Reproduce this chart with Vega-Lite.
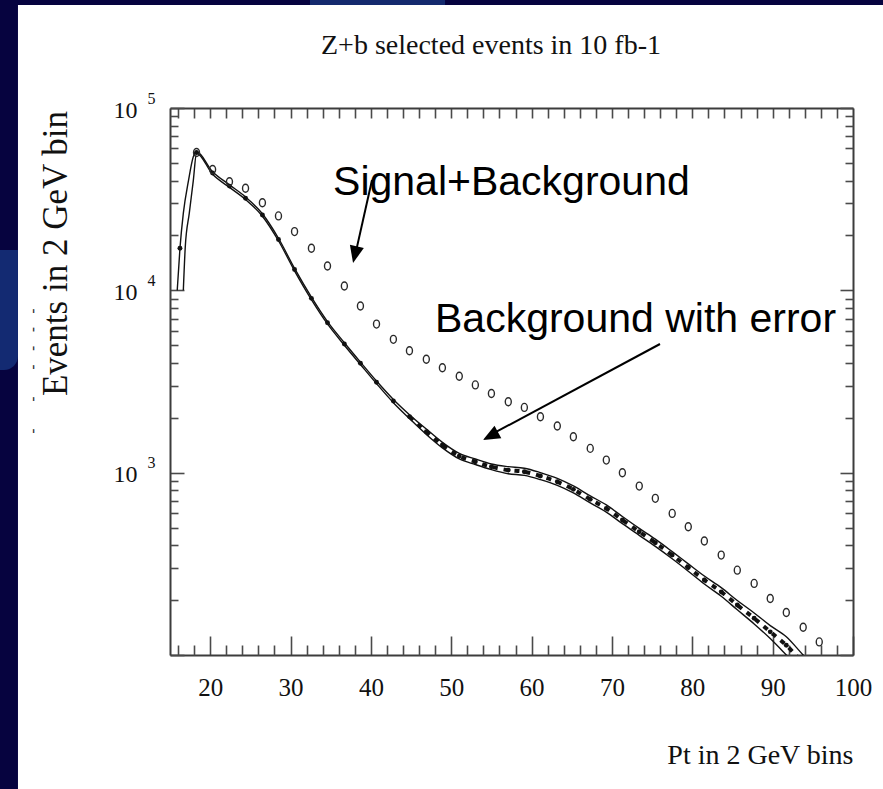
{
  "$schema": "https://vega.github.io/schema/vega-lite/v6.json",
  "width": 683,
  "height": 547,
  "autosize": {"type": "none"},
  "padding": {"left": 170, "top": 108, "right": 30, "bottom": 134},
  "background": "white",
  "config": {
    "view": {"stroke": null},
    "axis": {
      "zindex": 1,
      "grid": false,
      "domain": false,
      "ticks": false,
      "labels": false,
      "domainColor": "#3c3c3c",
      "domainWidth": 2,
      "tickColor": "#4a4a4a",
      "tickWidth": 1.6,
      "labelFont": "Liberation Serif",
      "labelFontSize": 25,
      "labelColor": "#111111",
      "titleFont": "Liberation Serif",
      "titleFontWeight": "normal",
      "titleColor": "#111111",
      "labelFlush": false,
      "labelOverlap": false,
      "labelBound": false
    }
  },
  "resolve": {"axis": {"x": "independent", "y": "independent"}},
  "datasets": {
    "sig": [
      {"pt": 18.3, "evts": 57000}, {"pt": 20.3, "evts": 46000}, {"pt": 22.4, "evts": 39400},
      {"pt": 24.4, "evts": 36300}, {"pt": 26.5, "evts": 30200}, {"pt": 28.5, "evts": 25600},
      {"pt": 30.5, "evts": 21000}, {"pt": 32.6, "evts": 17000}, {"pt": 34.6, "evts": 13600},
      {"pt": 36.7, "evts": 10560}, {"pt": 38.7, "evts": 8200}, {"pt": 40.7, "evts": 6530},
      {"pt": 42.8, "evts": 5385}, {"pt": 44.8, "evts": 4664}, {"pt": 46.9, "evts": 4190},
      {"pt": 48.9, "evts": 3760}, {"pt": 51.0, "evts": 3380}, {"pt": 53.0, "evts": 3030},
      {"pt": 55.0, "evts": 2720}, {"pt": 57.1, "evts": 2449}, {"pt": 59.1, "evts": 2280},
      {"pt": 61.1, "evts": 2028}, {"pt": 63.2, "evts": 1803}, {"pt": 65.2, "evts": 1574},
      {"pt": 67.3, "evts": 1359}, {"pt": 69.3, "evts": 1172}, {"pt": 71.3, "evts": 999},
      {"pt": 73.4, "evts": 844}, {"pt": 75.4, "evts": 723}, {"pt": 77.5, "evts": 598},
      {"pt": 79.5, "evts": 505}, {"pt": 81.5, "evts": 422}, {"pt": 83.6, "evts": 353},
      {"pt": 85.6, "evts": 292}, {"pt": 87.7, "evts": 247}, {"pt": 89.7, "evts": 204},
      {"pt": 91.7, "evts": 171}, {"pt": 93.8, "evts": 142}, {"pt": 95.8, "evts": 118}
    ],
    "bkg": [
      {"pt": 15.9, "bkg": null, "lo": null, "hi": 10000},
      {"pt": 16.24, "bkg": 17000, "lo": null, "hi": 17000},
      {"pt": 16.66, "bkg": null, "lo": 10000, "hi": 26500},
      {"pt": 16.9, "bkg": null, "lo": 17300, "hi": null},
      {"pt": 17.3, "bkg": null, "lo": null, "hi": 40000},
      {"pt": 17.4, "bkg": null, "lo": 26500, "hi": null},
      {"pt": 17.9, "bkg": null, "lo": 40000, "hi": 54000},
      {"pt": 18.3, "bkg": 57000, "lo": 56500, "hi": 57500},
      {"pt": 20.3, "bkg": 44000, "lo": 43300, "hi": 44700},
      {"pt": 22.4, "bkg": 37300, "lo": 36700, "hi": 37900},
      {"pt": 24.4, "bkg": 32000, "lo": 31500, "hi": 32500},
      {"pt": 26.5, "bkg": 25900, "lo": 25500, "hi": 26300},
      {"pt": 28.5, "bkg": 19000, "lo": 18700, "hi": 19300},
      {"pt": 30.5, "bkg": 13000, "lo": 12800, "hi": 13200},
      {"pt": 32.6, "bkg": 9040, "lo": 8900, "hi": 9180},
      {"pt": 34.6, "bkg": 6640, "lo": 6540, "hi": 6740},
      {"pt": 36.7, "bkg": 5080, "lo": 5000, "hi": 5160},
      {"pt": 38.7, "bkg": 3980, "lo": 3920, "hi": 4040},
      {"pt": 40.7, "bkg": 3130, "lo": 3080, "hi": 3180},
      {"pt": 42.8, "bkg": 2470, "lo": 2420, "hi": 2520},
      {"pt": 44.8, "bkg": 2030, "lo": 1980, "hi": 2080},
      {"pt": 46.9, "bkg": 1677, "lo": 1620, "hi": 1735},
      {"pt": 48.9, "bkg": 1417, "lo": 1368, "hi": 1467},
      {"pt": 51.0, "bkg": 1233, "lo": 1190, "hi": 1276},
      {"pt": 53.0, "bkg": 1148, "lo": 1108, "hi": 1188},
      {"pt": 55.0, "bkg": 1077, "lo": 1039, "hi": 1115},
      {"pt": 57.1, "bkg": 1033, "lo": 987, "hi": 1079},
      {"pt": 59.1, "bkg": 1012, "lo": 966, "hi": 1058},
      {"pt": 61.1, "bkg": 958, "lo": 915, "hi": 1001},
      {"pt": 63.2, "bkg": 891, "lo": 851, "hi": 931},
      {"pt": 65.2, "bkg": 810, "lo": 774, "hi": 846},
      {"pt": 67.3, "bkg": 714, "lo": 682, "hi": 746},
      {"pt": 69.3, "bkg": 637, "lo": 608, "hi": 666},
      {"pt": 71.3, "bkg": 550, "lo": 525, "hi": 575},
      {"pt": 73.4, "bkg": 474, "lo": 453, "hi": 495},
      {"pt": 75.4, "bkg": 413, "lo": 394, "hi": 432},
      {"pt": 77.5, "bkg": 353, "lo": 337, "hi": 369},
      {"pt": 79.5, "bkg": 302, "lo": 288, "hi": 316},
      {"pt": 81.5, "bkg": 258, "lo": 245, "hi": 271},
      {"pt": 83.6, "bkg": 222, "lo": 210, "hi": 234},
      {"pt": 85.6, "bkg": 188, "lo": 177, "hi": 199},
      {"pt": 87.7, "bkg": 159, "lo": 148, "hi": 170},
      {"pt": 89.7, "bkg": 134, "lo": 123, "hi": 145},
      {"pt": 91.7, "bkg": 113, "lo": 100, "hi": 126},
      {"pt": 93.8, "bkg": 90, "lo": 80, "hi": 100},
      {"pt": 95.8, "bkg": null, "lo": null, "hi": 82}
    ]
  },
  "layer": [
    {
      "description": "dark slide border on the left, with the labelled bottom axis and the mantissa of the left labels",
      "data": {"values": [{}]},
      "mark": {"type": "rect", "color": "#06033f"},
      "encoding": {
        "x": {
          "datum": -40, "type": "quantitative",
          "scale": {"domain": [15, 100], "nice": false, "zero": false},
          "axis": {
            "orient": "bottom", "labels": true, "labelPadding": 20,
            "values": [20, 30, 40, 50, 60, 70, 80, 90, 100],
            "title": "Pt in 2 GeV bins", "titleFontSize": 28, "titleAnchor": "end",
            "titleAlign": "right", "titleBaseline": "alphabetic", "titleX": 683, "titleY": 108
          }
        },
        "x2": {"datum": -3.92},
        "y": {
          "datum": 1000000000, "type": "quantitative",
          "scale": {"type": "log", "domain": [100, 100000], "nice": false},
          "axis": {
            "orient": "left", "labels": true, "labelPadding": 33, "labelOffset": 2,
            "values": [1000, 10000, 100000],
            "labelExpr": "'10'",
            "labelFontSize": 24,
            "title": "Events in 2 GeV bin", "titleFontSize": 35, "titleAngle": 270,
            "titleX": -104, "titleY": 145, "titleAlign": "center", "titleBaseline": "alphabetic"
          }
        },
        "y2": {"datum": 1}
      }
    },
    {
      "description": "dark slide border along the top, with the exponents of the left labels",
      "data": {"values": [{}]},
      "mark": {"type": "rect", "color": "#06033f"},
      "encoding": {
        "x": {"datum": -40, "type": "quantitative", "scale": {"domain": [15, 100], "nice": false, "zero": false}, "axis": null},
        "x2": {"datum": 140},
        "y": {
          "datum": 1000000000, "type": "quantitative",
          "scale": {"type": "log", "domain": [100, 100000], "nice": false},
          "axis": {
            "orient": "left", "title": null, "labels": true, "labelPadding": 15, "labelOffset": -10,
            "values": [1000, 10000, 100000],
            "labelExpr": "format(log(datum.value) / log(10), '.0f')",
            "labelFontSize": 16
          }
        },
        "y2": {"datum": 367000}
      }
    },
    {
      "description": "lighter swoosh of the slide template on the left border",
      "data": {"values": [{}]},
      "mark": {"type": "rect", "color": "#132a72", "cornerRadiusBottomRight": 14},
      "encoding": {
        "x": {"datum": -40, "type": "quantitative", "scale": {"domain": [15, 100], "nice": false, "zero": false}, "axis": null},
        "x2": {"datum": -3.92},
        "y": {"datum": 16640, "type": "quantitative", "scale": {"type": "log", "domain": [100, 100000], "nice": false}, "axis": null},
        "y2": {"datum": 3656}
      }
    },
    {
      "description": "lighter patch of the slide template on the top border",
      "data": {"values": [{}]},
      "mark": {"type": "rect", "color": "#142a6e"},
      "encoding": {
        "x": {"datum": 32.42, "type": "quantitative", "scale": {"domain": [15, 100], "nice": false, "zero": false}, "axis": null},
        "x2": {"datum": 49.23},
        "y": {"datum": 1000000000, "type": "quantitative", "scale": {"type": "log", "domain": [100, 100000], "nice": false}, "axis": null},
        "y2": {"datum": 367000}
      }
    },
    {
      "description": "upper edge of the background error band, with major frame ticks",
      "data": {"name": "bkg"},
      "transform": [{"filter": "datum.hi != null"}],
      "mark": {"type": "line", "color": "#111111", "strokeWidth": 1.4, "interpolate": "monotone", "clip": true},
      "encoding": {
        "x": {
          "field": "pt", "type": "quantitative",
          "scale": {"domain": [15, 100], "nice": false, "zero": false},
          "axis": {"orient": "bottom", "title": null, "domain": true, "ticks": true, "tickSize": -19,
                   "values": [20, 30, 40, 50, 60, 70, 80, 90, 100]}
        },
        "y": {
          "field": "hi", "type": "quantitative",
          "scale": {"type": "log", "domain": [100, 100000], "nice": false},
          "axis": {"orient": "left", "title": null, "domain": true, "ticks": true, "tickSize": -14,
                   "values": [100, 1000, 10000, 100000]}
        }
      }
    },
    {
      "description": "lower edge of the background error band, with minor frame ticks",
      "data": {"name": "bkg"},
      "transform": [{"filter": "datum.lo != null"}],
      "mark": {"type": "line", "color": "#111111", "strokeWidth": 1.4, "interpolate": "monotone", "clip": true},
      "encoding": {
        "x": {
          "field": "pt", "type": "quantitative",
          "scale": {"domain": [15, 100], "nice": false, "zero": false},
          "axis": {"orient": "bottom", "title": null, "ticks": true, "tickSize": -10,
                   "values": [16, 18, 22, 24, 26, 28, 32, 34, 36, 38, 42, 44, 46, 48, 52, 54, 56, 58, 62, 64, 66, 68, 72, 74, 76, 78, 82, 84, 86, 88, 92, 94, 96, 98]}
        },
        "y": {
          "field": "lo", "type": "quantitative",
          "scale": {"type": "log", "domain": [100, 100000], "nice": false},
          "axis": {"orient": "left", "title": null, "ticks": true, "tickSize": -8,
                   "values": [200, 300, 400, 500, 600, 700, 800, 900, 2000, 3000, 4000, 5000, 6000, 7000, 8000, 9000, 20000, 30000, 40000, 50000, 60000, 70000, 80000, 90000]}
        }
      }
    },
    {
      "description": "hatching inside the error band, with the top and right frame",
      "data": {"name": "bkg"},
      "transform": [{"filter": "datum.bkg != null && datum.pt >= 44"}],
      "mark": {"type": "line", "color": "#111111", "strokeWidth": 4, "strokeDash": [5, 6], "interpolate": "monotone", "clip": true},
      "encoding": {
        "x": {
          "field": "pt", "type": "quantitative",
          "scale": {"domain": [15, 100], "nice": false, "zero": false},
          "axis": {"orient": "top", "title": null, "domain": true, "ticks": true, "tickSize": -10,
                   "values": [16, 18, 20, 22, 24, 26, 28, 30, 32, 34, 36, 38, 40, 42, 44, 46, 48, 50, 52, 54, 56, 58, 60, 62, 64, 66, 68, 70, 72, 74, 76, 78, 80, 82, 84, 86, 88, 90, 92, 94, 96, 98]}
        },
        "y": {
          "field": "bkg", "type": "quantitative",
          "scale": {"type": "log", "domain": [100, 100000], "nice": false},
          "axis": {"orient": "right", "title": null, "domain": true, "ticks": true, "tickSize": -13,
                   "values": [100, 1000, 10000, 100000]}
        }
      }
    },
    {
      "description": "background points",
      "data": {"name": "bkg"},
      "transform": [{"filter": "datum.bkg != null && datum.bkg >= 100"}],
      "mark": {"type": "point", "filled": true, "color": "#111111", "size": 24, "opacity": 1},
      "encoding": {
        "x": {"field": "pt", "type": "quantitative", "scale": {"domain": [15, 100], "nice": false, "zero": false}, "axis": null},
        "y": {
          "field": "bkg", "type": "quantitative",
          "scale": {"type": "log", "domain": [100, 100000], "nice": false},
          "axis": {"orient": "right", "title": null, "ticks": true, "tickSize": -8,
                   "values": [200, 300, 400, 500, 600, 700, 800, 900, 2000, 3000, 4000, 5000, 6000, 7000, 8000, 9000, 20000, 30000, 40000, 50000, 60000, 70000, 80000, 90000]}
        }
      }
    },
    {
      "description": "signal plus background points",
      "data": {"name": "sig"},
      "mark": {"type": "point", "filled": false, "color": "#2a2a2a", "strokeWidth": 1.4, "size": 64, "opacity": 1,
               "shape": "M-0.75,0 A0.75,1 0 1,0 0.75,0 A0.75,1 0 1,0 -0.75,0 Z"},
      "encoding": {
        "x": {"field": "pt", "type": "quantitative", "scale": {"domain": [15, 100], "nice": false, "zero": false}, "axis": null},
        "y": {"field": "evts", "type": "quantitative", "scale": {"type": "log", "domain": [100, 100000], "nice": false}, "axis": null}
      }
    },
    {
      "data": {"values": [{}]},
      "mark": {"type": "rule", "color": "#000000", "strokeWidth": 2},
      "encoding": {
        "x": {"datum": 40.14, "type": "quantitative", "scale": {"domain": [15, 100], "nice": false, "zero": false}, "axis": null},
        "y": {"datum": 40290, "type": "quantitative", "scale": {"type": "log", "domain": [100, 100000], "nice": false}, "axis": null},
        "x2": {"datum": 38.1},
        "y2": {"datum": 16000}
      }
    },
    {
      "data": {"values": [{}]},
      "mark": {"type": "point", "filled": true, "color": "#000000", "opacity": 1, "size": 1156, "angle": 193,
               "shape": "M0,0 L-0.42,1 L0.42,1 Z"},
      "encoding": {
        "x": {"datum": 37.78, "type": "quantitative", "scale": {"domain": [15, 100], "nice": false, "zero": false}, "axis": null},
        "y": {"datum": 14120, "type": "quantitative", "scale": {"type": "log", "domain": [100, 100000], "nice": false}, "axis": null}
      }
    },
    {
      "data": {"values": [{}]},
      "mark": {"type": "rule", "color": "#000000", "strokeWidth": 2},
      "encoding": {
        "x": {"datum": 75.98, "type": "quantitative", "scale": {"domain": [15, 100], "nice": false, "zero": false}, "axis": null},
        "y": {"datum": 5078, "type": "quantitative", "scale": {"type": "log", "domain": [100, 100000], "nice": false}, "axis": null},
        "x2": {"datum": 55.0},
        "y2": {"datum": 1620}
      }
    },
    {
      "data": {"values": [{}]},
      "mark": {"type": "point", "filled": true, "color": "#000000", "opacity": 1, "size": 1156, "angle": 241.5,
               "shape": "M0,0 L-0.42,1 L0.42,1 Z"},
      "encoding": {
        "x": {"datum": 53.95, "type": "quantitative", "scale": {"domain": [15, 100], "nice": false, "zero": false}, "axis": null},
        "y": {"datum": 1510, "type": "quantitative", "scale": {"type": "log", "domain": [100, 100000], "nice": false}, "axis": null}
      }
    },
    {
      "data": {"values": [{"label": "Signal+Background"}]},
      "mark": {"type": "text", "font": "Liberation Sans", "fontSize": 41, "align": "left", "baseline": "alphabetic", "color": "#000000"},
      "encoding": {
        "x": {"datum": 35.29, "type": "quantitative", "scale": {"domain": [15, 100], "nice": false, "zero": false}, "axis": null},
        "y": {"datum": 33330, "type": "quantitative", "scale": {"type": "log", "domain": [100, 100000], "nice": false}, "axis": null},
        "text": {"field": "label"}
      }
    },
    {
      "data": {"values": [{"label": "Background with error"}]},
      "mark": {"type": "text", "font": "Liberation Sans", "fontSize": 41, "align": "left", "baseline": "alphabetic", "color": "#000000"},
      "encoding": {
        "x": {"datum": 47.98, "type": "quantitative", "scale": {"domain": [15, 100], "nice": false, "zero": false}, "axis": null},
        "y": {"datum": 5908, "type": "quantitative", "scale": {"type": "log", "domain": [100, 100000], "nice": false}, "axis": null},
        "text": {"field": "label"}
      }
    },
    {
      "description": "chart heading",
      "data": {"values": [{"label": "Z+b selected events in 10 fb-1"}]},
      "mark": {"type": "text", "font": "Liberation Serif", "fontSize": 28, "align": "center", "baseline": "alphabetic", "color": "#111111"},
      "encoding": {
        "x": {"datum": 54.95, "type": "quantitative", "scale": {"domain": [15, 100], "nice": false, "zero": false}, "axis": null},
        "y": {"datum": 197700, "type": "quantitative", "scale": {"type": "log", "domain": [100, 100000], "nice": false}, "axis": null},
        "text": {"field": "label"}
      }
    },
    {
      "description": "faint remnant of a cropped label beside the axis title",
      "data": {"values": [{"label": "-\u00a0\u00a0\u00a0\u00a0\u00a0\u00a0-\u00a0\u00a0\u00a0\u00a0\u00a0\u00a0-\u00a0\u00a0\u00a0-\u00a0\u00a0\u00a0-\u00a0\u00a0\u00a0-"}]},
      "mark": {"type": "text", "font": "Liberation Sans", "fontSize": 16, "align": "center", "baseline": "middle", "angle": 270, "color": "#333333"},
      "encoding": {
        "x": {"datum": -2.05, "type": "quantitative", "scale": {"domain": [15, 100], "nice": false, "zero": false}, "axis": null},
        "y": {"datum": 3610, "type": "quantitative", "scale": {"type": "log", "domain": [100, 100000], "nice": false}, "axis": null},
        "text": {"field": "label"}
      }
    }
  ]
}
